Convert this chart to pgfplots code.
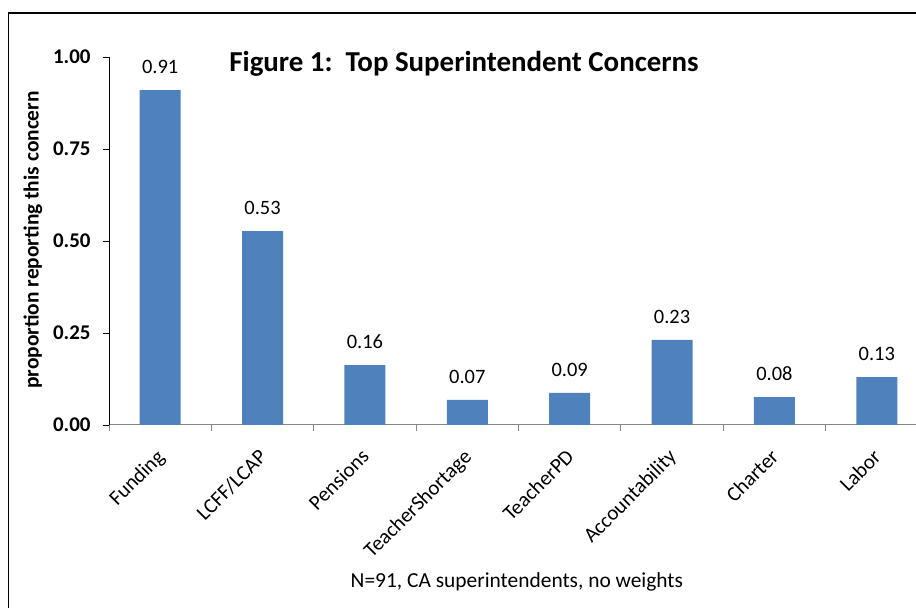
\documentclass[border=0pt]{standalone}
\usepackage{pgfplots}
\pgfplotsset{compat=1.18}
\usepackage{fontspec}
\setmainfont{Carlito}
\definecolor{barblue}{HTML}{4F81BD}
\definecolor{axgray}{HTML}{868686}
\begin{document}
\begin{tikzpicture}
% outer frame (only left and top edges fall inside the picture)
\draw[line width=1.6bp] (8.5bp,-5bp) -- (8.5bp,595bp) -- (930bp,595bp);
\begin{axis}[
    at={(109bp,183bp)}, anchor=south west,
    scale only axis, width=819bp, height=368bp,
    ymin=0, ymax=1, xmin=-0.5, xmax=7.5,
    axis x line*=bottom, axis y line*=left,
    x axis line style={axgray, line width=1bp},
    y axis line style={black, line width=0.8bp},
    ybar, bar width=41bp,
    ytick={0,0.25,0.5,0.75,1},
    yticklabel style={font=\fontsize{21}{24}\selectfont\bfseries, xshift=-9bp,
        /pgf/number format/.cd, fixed, fixed zerofill, precision=2},
    /pgf/number format/assume math mode=true,
    xtick={-0.5,0.5,...,7.5},
    x tick label as interval,
    xticklabels={Funding,LCFF/LCAP,Pensions,TeacherShortage,TeacherPD,Accountability,Charter,Labor},
    x tick label style={rotate=45, anchor=north east, font=\fontsize{21}{24}\selectfont, xshift=-12bp, yshift=-5bp},
    tick align=outside, major tick length=6bp,
    xtick style={axgray, line width=1bp},
    ytick style={black, line width=0.8bp},
    nodes near coords,
    nodes near coords style={font=\fontsize{20.5}{24}\selectfont, black, yshift=13bp,
        /pgf/number format/.cd, fixed, fixed zerofill, precision=2},
    clip=false,
    title={Figure 1:\ \ Top Superintendent Concerns},
    title style={at={(axis description cs:0.4335,0.9455)}, anchor=base,
        font=\fontsize{29}{34}\selectfont\bfseries},
    ylabel={proportion reporting this concern},
    ylabel style={at={(axis description cs:-0.0928,0.503)}, anchor=center,
        font=\fontsize{21.5}{25}\selectfont\bfseries},
    xlabel={N=91, CA superintendents, no weights},
    xlabel style={at={(axis description cs:0.498,-0.427)}, anchor=center,
        font=\fontsize{21.5}{25}\selectfont},
]
\addplot[fill=barblue, draw=none] coordinates {
    (0,0.910) (1,0.527) (2,0.163) (3,0.068) (4,0.087) (5,0.231) (6,0.076) (7,0.130)
};
\end{axis}
\pgfresetboundingbox
\path (0,0) rectangle (916bp,608bp);
\end{tikzpicture}
\end{document}
